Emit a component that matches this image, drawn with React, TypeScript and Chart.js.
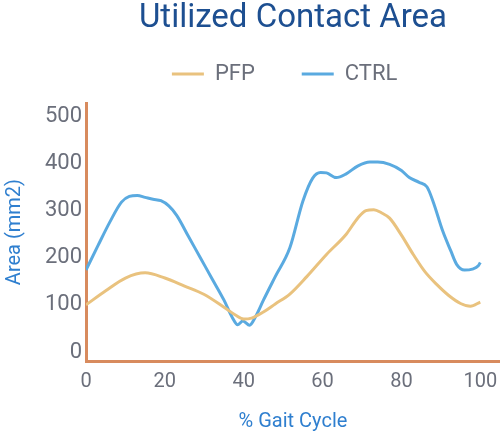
import React, { useEffect, useRef } from "react";
import { Chart, registerables } from "chart.js";

Chart.register(...registerables);

const pfpX = [0, 5, 10, 15, 20, 25, 30, 35, 38, 40, 42, 45, 48, 51.7, 56, 61, 66, 69, 71, 73, 75, 77, 80, 83, 86, 89, 92, 95, 97.5, 100];
const pfpY = [100, 130, 157, 168, 157, 140, 122, 95, 78, 70, 72, 85, 102, 123, 160, 207, 250, 285, 300, 302, 295, 284, 248, 207, 170, 143, 120, 103, 97, 106];

const ctrlX = [0, 3, 6, 9, 11, 13, 15, 17, 19, 21, 23, 26, 29, 32, 35, 37, 38.5, 39.8, 41.5, 43, 45, 48, 51.7, 55, 57.5, 59.5, 61, 63.5, 66, 69, 72, 74, 77, 80, 82, 84.5, 86.5, 88, 90.5, 92.5, 94, 96, 98, 99.5, 100];
const ctrlY = [174, 225, 275, 318, 330, 332, 328, 324, 321, 310, 290, 245, 200, 155, 110, 75, 58, 66, 57, 75, 110, 160, 221, 320, 369, 381, 380, 370, 378, 395, 403, 403, 398, 385, 370, 360, 350, 320, 256, 215, 186, 174, 176, 183, 190];

const xTicks = [0, 20, 40, 60, 80, 100];
const yTicks = [0, 100, 200, 300, 400, 500];

const seriesNames = ["PFP", "CTRL"];
const titleText = "Utilized Contact Area";
const xTitle = "% Gait Cycle";
const yTitle = "Area (mm2)";

const FONT = "Roboto";
const GRAY = "#6b6f7b";
const BLUE_TEXT = "#2f7fcf";
const AXIS = "#d88b5e";

export default function App() {
  const ref = useRef<HTMLCanvasElement | null>(null);
  useEffect(() => {
    if (!ref.current) return;
    const toPts = (xs: number[], ys: number[]) => xs.map((x, i) => ({ x, y: ys[i] }));
    const chart = new Chart(ref.current, {
      type: "line",
      data: {
        datasets: [
          {
            label: seriesNames[0],
            data: toPts(pfpX, pfpY),
            borderColor: "#e9c27e",
            backgroundColor: "#e9c27e",
            borderWidth: 3,
            pointRadius: 0,
            cubicInterpolationMode: "monotone",
          },
          {
            label: seriesNames[1],
            data: toPts(ctrlX, ctrlY),
            borderColor: "#5aaae0",
            backgroundColor: "#5aaae0",
            borderWidth: 3,
            pointRadius: 0,
            cubicInterpolationMode: "monotone",
          },
        ],
      },
      options: {
        responsive: false,
        animation: false,
        layout: { padding: 0 },
        plugins: {
          tooltip: { enabled: false },
          title: {
            display: true,
            text: titleText,
            fullSize: false,
            color: "#1d4f91",
            font: { family: FONT, size: 33, weight: "normal" },
            padding: { top: -1.5, bottom: 8 },
          },
          legend: {
            display: true,
            fullSize: false,
            labels: {
              boxWidth: 32,
              boxHeight: 3,
              padding: 17,
              color: GRAY,
              font: { family: FONT, size: 22 },
              generateLabels: (c: any) => {
                const items = Chart.defaults.plugins.legend.labels.generateLabels(c);
                return items.map((it: any, i: number) => ({
                  ...it,
                  text: i === 0 ? it.text + "\u2003\u2004" : it.text + "\u2002\u2005",
                  lineWidth: 0,
                }));
              },
            },
          },
        },
        scales: {
          x: {
            type: "linear",
            min: 0,
            max: 105,
            afterBuildTicks: (s: any) => {
              s.ticks = xTicks.map((v) => ({ value: v }));
            },
            afterFit: (s: any) => {
              s.height = 71;
              s.paddingLeft = 0;
              s.paddingRight = 0;
            },
            grid: { display: true, color: "transparent", drawTicks: false },
            border: { display: true, color: AXIS, width: 3 },
            ticks: {
              color: GRAY,
              padding: 9,
              font: { family: FONT, size: 20 },
              maxRotation: 0,
            },
            title: {
              display: true,
              text: xTitle,
              color: BLUE_TEXT,
              font: { family: FONT, size: 20 },
              padding: { top: 0, bottom: -2 },
            },
          },
          spacer: {
            type: "linear",
            position: "top",
            display: true,
            grid: { display: false },
            border: { display: false },
            ticks: { display: false },
            afterFit: (s: any) => {
              s.height = 8;
              s.paddingLeft = 0;
              s.paddingRight = 0;
            },
          },
          y: {
            type: "linear",
            min: -19,
            max: 528,
            afterBuildTicks: (s: any) => {
              s.ticks = yTicks.map((v) => ({ value: v }));
            },
            afterFit: (s: any) => {
              s.width = 86;
            },
            grid: { display: true, color: "transparent", drawTicks: false },
            border: { display: true, color: AXIS, width: 3 },
            ticks: {
              color: GRAY,
              padding: 4,
              font: { family: FONT, size: 22 },
            },
            title: {
              display: true,
              text: yTitle,
              color: BLUE_TEXT,
              font: { family: FONT, size: 20 },
              padding: { top: 3, bottom: 0 },
            },
          },
        },
      },
    } as any);
    return () => chart.destroy();
  }, []);
  return (
    <div style={{ position: "absolute", left: 0, top: 0, width: 500, height: 432, background: "#fff" }}>
      <canvas ref={ref} width={500} height={432} />
    </div>
  );
}
